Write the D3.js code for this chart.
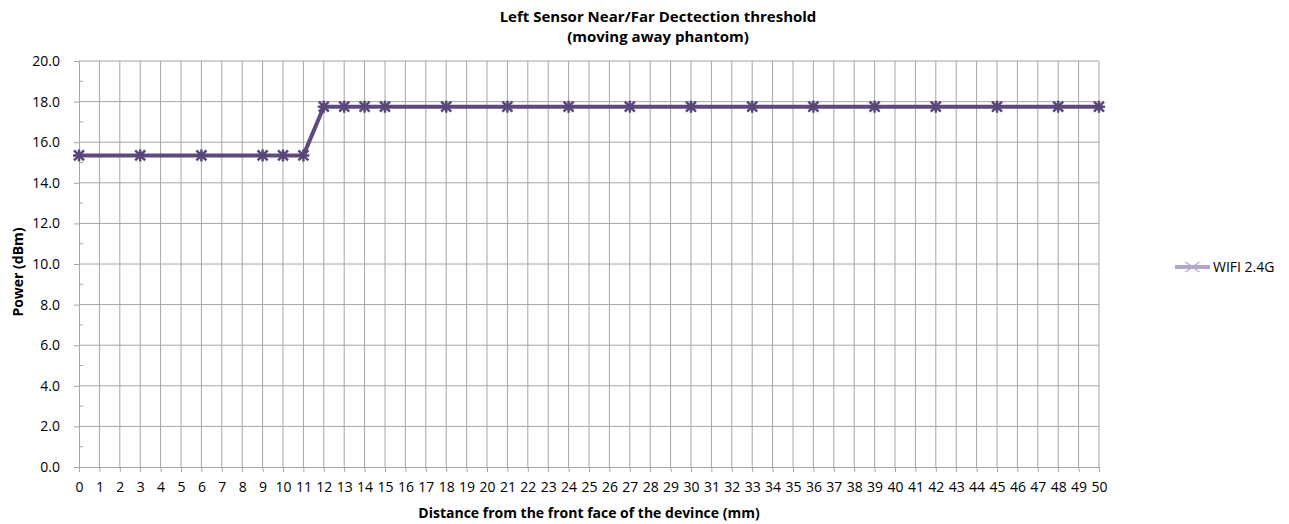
<!DOCTYPE html>
<html>
<head>
<meta charset="utf-8">
<script src="https://cdn.jsdelivr.net/npm/d3@7"></script>
<style>
  body { margin: 0; background: #fff; }
  text { font-family: "Open Sans", "Liberation Sans", Arial, sans-serif; fill: #000; }
</style>
</head>
<body>
<script>
// data
var distances = [0, 3, 6, 9, 10, 11, 12, 13, 14, 15, 18, 21, 24, 27, 30, 33, 36, 39, 42, 45, 48, 50];
var power = [15.35, 15.35, 15.35, 15.35, 15.35, 15.35, 17.75, 17.75, 17.75, 17.75, 17.75, 17.75,
             17.75, 17.75, 17.75, 17.75, 17.75, 17.75, 17.75, 17.75, 17.75, 17.75];
var seriesName = "WIFI 2.4G";
var yTicks = [0, 2, 4, 6, 8, 10, 12, 14, 16, 18, 20];
var yMinor = [1, 3, 5, 7, 9, 11, 13, 15, 17, 19];
var xTicks = d3.range(0, 51);

var W = 1289, H = 524;

var svg = d3.select("body").append("svg")
  .attr("width", W).attr("height", H);

var x = d3.scaleLinear().domain([0, 50]).range([79, 1099]);
var y = d3.scaleLinear().domain([0, 20]).range([467, 61]);

var gridColor = "#a6a6a6";

// vertical grid
svg.append("g").selectAll("line")
  .data(xTicks.slice(1))
  .enter().append("line")
    .attr("x1", function(d) { return x(d); })
    .attr("x2", function(d) { return x(d); })
    .attr("y1", y(20)).attr("y2", y(0))
    .attr("stroke", gridColor).attr("stroke-width", 1);

// horizontal grid
svg.append("g").selectAll("line")
  .data(yTicks.slice(1))
  .enter().append("line")
    .attr("x1", x(0)).attr("x2", x(50))
    .attr("y1", function(d) { return y(d); })
    .attr("y2", function(d) { return y(d); })
    .attr("stroke", gridColor).attr("stroke-width", 1);

// y axis
var yAxis = svg.append("g")
  .attr("transform", "translate(" + x(0) + ",0)")
  .attr("font-size", 14)
  .call(d3.axisLeft(y).tickValues(yTicks).tickSize(5).tickPadding(14)
    .tickFormat(d3.format(".1f")));
yAxis.selectAll("text").style("font-size", "14px").attr("fill", "#222");

// minor ticks
svg.append("g").selectAll("line")
  .data(yMinor)
  .enter().append("line")
    .attr("x1", x(0)).attr("x2", x(0) + 4)
    .attr("y1", function(d) { return y(d); })
    .attr("y2", function(d) { return y(d); })
    .attr("stroke", gridColor);

// x axis
var xAxis = svg.append("g")
  .attr("transform", "translate(0," + y(0) + ")")
  .attr("font-size", 14)
  .call(d3.axisBottom(x).tickValues(xTicks).tickSize(5).tickPadding(10)
    .tickFormat(d3.format("d")));
xAxis.selectAll("text").style("font-size", "14px").attr("fill", "#222");

svg.selectAll(".domain, .tick line").attr("stroke", gridColor);

var pts = distances.map(function(d, i) { return [d, power[i]]; });

// line
svg.append("path")
  .datum(pts)
  .attr("fill", "none")
  .attr("stroke", "#5f4a80")
  .attr("stroke-width", 4)
  .attr("stroke-linejoin", "round")
  .attr("d", d3.line()
    .x(function(d) { return x(d[0]); })
    .y(function(d) { return y(d[1]); }));

// star markers
var star = "M-5,-5L5,5M-5,5L5,-5M0,-6L0,6M-6,0L6,0";
svg.append("g").selectAll("path")
  .data(pts)
  .enter().append("path")
    .attr("transform", function(d) { return "translate(" + x(d[0]) + "," + y(d[1]) + ")"; })
    .attr("d", star)
    .attr("stroke", "#5a4679")
    .attr("stroke-width", 2.5)
    .attr("fill", "none");

// title
svg.append("text")
  .attr("x", 658).attr("y", 22)
  .attr("text-anchor", "middle")
  .style("font-size", "15px").style("font-weight", "bold")
  .text("Left Sensor Near/Far Dectection threshold");
svg.append("text")
  .attr("x", 658).attr("y", 42)
  .attr("text-anchor", "middle")
  .style("font-size", "15px").style("font-weight", "bold")
  .text("(moving away phantom)");

// axis titles
svg.append("text")
  .attr("transform", "translate(23,272) rotate(-90)")
  .attr("text-anchor", "middle")
  .style("font-size", "14px").style("font-weight", "bold")
  .text("Power (dBm)");
svg.append("text")
  .attr("x", 589).attr("y", 518)
  .attr("text-anchor", "middle")
  .style("font-size", "14px").style("font-weight", "bold")
  .text("Distance from the front face of the devince (mm)");

// legend
var lg = svg.append("g").attr("transform", "translate(1175,267)");
lg.append("line")
  .attr("x1", 0).attr("x2", 35).attr("y1", 0).attr("y2", 0)
  .attr("stroke", "#b3a5cb").attr("stroke-width", 4);
lg.append("path")
  .attr("transform", "translate(17.5,0)")
  .attr("d", "M-7,-5L7,5M-7,5L7,-5")
  .attr("stroke", "#b3a5cb").attr("stroke-width", 1.2);
lg.append("text")
  .attr("x", 38).attr("y", 5)
  .style("font-size", "14px")
  .text(seriesName);
</script>
</body>
</html>
